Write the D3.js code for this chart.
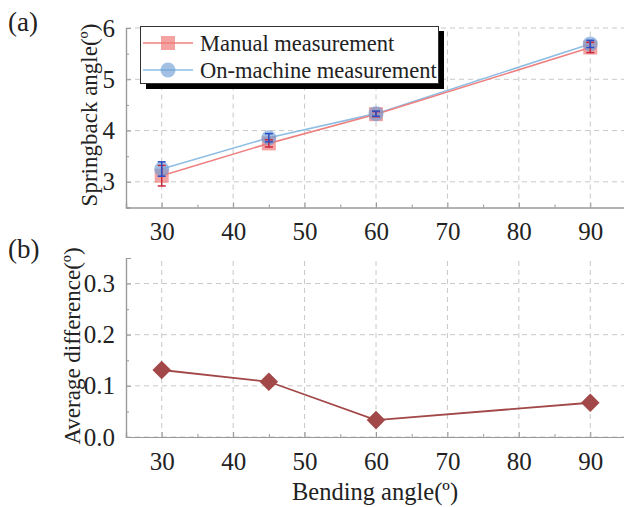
<!DOCTYPE html>
<html><head><meta charset="utf-8">
<script src="https://cdn.jsdelivr.net/npm/d3@7"></script>
<style>body{margin:0;background:#fff}svg{display:block}text{font-family:"Liberation Serif","Times New Roman",serif;fill:#222}</style>
</head><body><svg id="c" width="624" height="507"></svg>
<script>
const bendAngles = [30, 45, 60, 90];
const manual = [3.12, 3.75, 4.32, 5.62];
const manualErr = [0.2, 0.07, 0.05, 0.1];
const onMachine = [3.25, 3.86, 4.33, 5.69];
const onMachineErr = [0.14, 0.08, 0.05, 0.07];
const avgDiff = [0.131, 0.108, 0.033, 0.067];
const xTicks = [30, 40, 50, 60, 70, 80, 90];
const yTicksA = [3, 4, 5, 6];
const yTicksB = [0.0, 0.1, 0.2, 0.3];
const seriesNames = ["Manual measurement", "On-machine measurement"];

const svg = d3.select("#c");
const x = d3.scaleLinear().domain([25, 95]).range([126, 626]);
const yA = d3.scaleLinear().domain([2.5, 6]).range([207.5, 28]);
const yB = d3.scaleLinear().domain([0, 0.35]).range([437, 258]);
const gridC = "#c8c8c8", axisC = "#999";

function panel(y, yTicks, yMinor, fmt) {
  const g = svg.append("g");
  const y0 = y.range()[0], y1 = y.range()[1];
  g.selectAll(".vg").data(xTicks).join("line")
    .attr("x1", d => x(d)).attr("x2", d => x(d)).attr("y1", y0).attr("y2", y1)
    .attr("stroke", gridC).attr("stroke-dasharray", "5,4");
  g.selectAll(".hg").data(yTicks).join("line")
    .attr("x1", x(25)).attr("x2", 624).attr("y1", d => y(d)).attr("y2", d => y(d))
    .attr("stroke", gridC).attr("stroke-dasharray", "5,4");
  const xa = g.append("g").attr("transform", `translate(0,${y0})`)
    .call(d3.axisBottom(x).tickValues(xTicks).tickSize(-5).tickPadding(15));
  const xm = g.append("g").attr("transform", `translate(0,${y0})`)
    .call(d3.axisBottom(x).tickValues([35,45,55,65,75,85]).tickSize(-3).tickFormat(""));
  const ya = g.append("g").attr("transform", `translate(${x(25)},0)`)
    .call(d3.axisLeft(y).tickValues(yTicks).tickSize(-5).tickPadding(11).tickFormat(fmt));
  const ym = g.append("g").attr("transform", `translate(${x(25)},0)`)
    .call(d3.axisLeft(y).tickValues(yMinor).tickSize(-3).tickFormat(""));
  [xa, xm, ya, ym].forEach(a => {
    a.select(".domain").attr("stroke", axisC).attr("stroke-width", 1.2);
    a.selectAll(".tick line").attr("stroke", axisC);
    a.selectAll("text").style("font-size", "25px").style("font-family", "Liberation Serif, serif").attr("fill", "#222");
  });
  return g;
}

panel(yA, yTicksA, [3.5, 4.5, 5.5], d3.format("d"));
panel(yB, yTicksB, [0.05, 0.15, 0.25], d3.format(".1f"));

const line = (ys, sc) => d3.line().x((d, i) => x(bendAngles[i])).y(d => sc(d))(ys);
svg.append("path").attr("d", line(onMachine, yA)).attr("fill", "none").attr("stroke", "#8dbde3").attr("stroke-width", 1.6);
svg.append("path").attr("d", line(manual, yA)).attr("fill", "none").attr("stroke", "#ee8080").attr("stroke-width", 1.6);

svg.selectAll(".sq").data(manual).join("rect")
  .attr("x", (d, i) => x(bendAngles[i]) - 7).attr("y", d => yA(d) - 7)
  .attr("width", 14).attr("height", 14).attr("fill", "#f07a7a").attr("fill-opacity", 0.7);
svg.selectAll(".ci").data(onMachine).join("circle")
  .attr("cx", (d, i) => x(bendAngles[i])).attr("cy", d => yA(d)).attr("r", 7.5)
  .attr("fill", "#6e9ed6").attr("fill-opacity", 0.65);

function errBars(vals, errs, color) {
  vals.forEach((v, i) => {
    const cx = x(bendAngles[i]);
    const g = svg.append("g").attr("stroke", color).attr("stroke-width", 1.5);
    g.append("line").attr("x1", cx).attr("x2", cx).attr("y1", yA(v - errs[i])).attr("y2", yA(v + errs[i]));
    g.append("line").attr("x1", cx - 4).attr("x2", cx + 4).attr("y1", yA(v - errs[i])).attr("y2", yA(v - errs[i]));
    g.append("line").attr("x1", cx - 4).attr("x2", cx + 4).attr("y1", yA(v + errs[i])).attr("y2", yA(v + errs[i]));
  });
}
errBars(manual, manualErr, "#c8283c");
errBars(onMachine, onMachineErr, "#2a4fc4");

svg.append("path").attr("d", line(avgDiff, yB)).attr("fill", "none").attr("stroke", "#a34848").attr("stroke-width", 1.8);
svg.selectAll(".dm").data(avgDiff).join("path")
  .attr("d", d3.symbol().type(d3.symbolDiamond2).size(220))
  .attr("transform", (d, i) => `translate(${x(bendAngles[i])},${yB(d)})`)
  .attr("fill", "#a34848");

const lg = svg.append("g");
lg.append("rect").attr("x", 146).attr("y", 31).attr("width", 298).attr("height", 58).attr("fill", "#000");
lg.append("rect").attr("x", 140.5).attr("y", 26.5).attr("width", 298).attr("height", 57).attr("fill", "#fff").attr("stroke", "#333").attr("stroke-width", 1);
lg.append("line").attr("x1", 143).attr("x2", 193).attr("y1", 43).attr("y2", 43).attr("stroke", "#ee8080").attr("stroke-width", 1.6);
lg.append("rect").attr("x", 161).attr("y", 36).attr("width", 14).attr("height", 14).attr("fill", "#f07a7a").attr("fill-opacity", 0.7);
lg.append("line").attr("x1", 143).attr("x2", 193).attr("y1", 70).attr("y2", 70).attr("stroke", "#8dbde3").attr("stroke-width", 1.6);
lg.append("circle").attr("cx", 168).attr("cy", 70).attr("r", 7.5).attr("fill", "#6e9ed6").attr("fill-opacity", 0.65);
lg.append("text").attr("x", 200).attr("y", 51).style("font-size", "22.5px").text(seriesNames[0]);
lg.append("text").attr("x", 200).attr("y", 78).style("font-size", "22.5px").text(seriesNames[1]);

svg.append("text").attr("x", 8).attr("y", 31).style("font-size", "27px").text("(a)");
svg.append("text").attr("x", 8).attr("y", 258).style("font-size", "27px").text("(b)");
svg.append("text").attr("transform", "translate(97,115) rotate(-90)").attr("text-anchor", "middle").style("font-size", "23px").text("Springback angle(º)");
svg.append("text").attr("transform", "translate(80,346) rotate(-90)").attr("text-anchor", "middle").style("font-size", "23px").text("Average difference(º)");
svg.append("text").attr("x", 375).attr("y", 500).attr("text-anchor", "middle").style("font-size", "24.5px").text("Bending angle(º)");
</script></body></html>
